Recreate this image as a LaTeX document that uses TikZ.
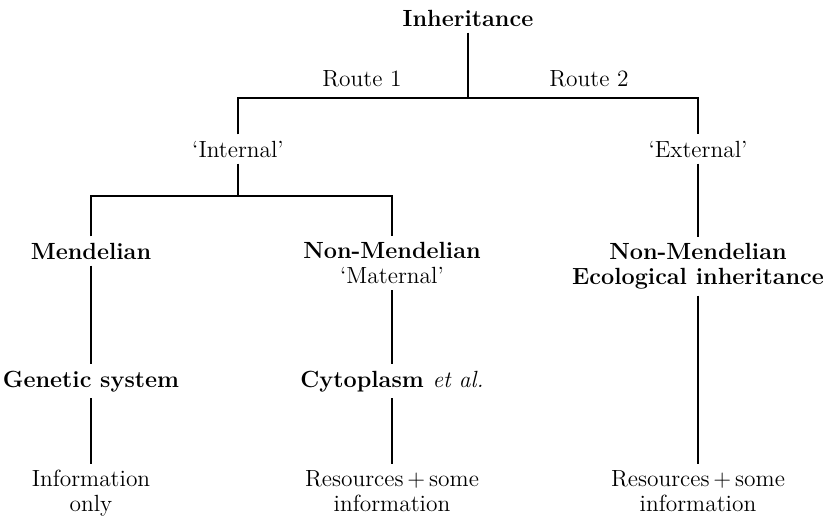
\documentclass[tikz,border=0pt]{standalone}
\usepackage{tikz}
\usetikzlibrary{positioning}
\begin{document}
\begin{tikzpicture}
[x=0.5pt, y=-0.5pt,
   link/.style={draw, line width=0.9pt},
   mainN/.style={shape=rectangle, align=center, inner sep=3pt, font=\fontsize{11.7}{12.5}\selectfont\bfseries},
   noteN/.style={shape=rectangle, align=center, inner sep=3pt, font=\fontsize{11.7}{12.5}\selectfont}]
\useasboundingbox (0,0) rectangle (837,520);
\node[mainN, anchor=base] (Inh) at (468, 26) {Inheritance};
\node[noteN, anchor=base] (R1) at (362, 86) {Route 1};
\node[noteN, anchor=base] (R2) at (589, 86) {Route 2};
\node[noteN, anchor=base] (Int) at (238, 157) {‘Internal’};
\node[noteN, anchor=base] (Ext) at (698, 157) {‘External’};
\node[mainN, anchor=base] (Men) at (91, 259) {Mendelian};
\node[mainN, anchor=north] (NM) at (392, 236) {Non-Mendelian\\{\mdseries ‘Maternal’}};
\node[mainN, anchor=north] (Eco) at (698, 237) {Non-Mendelian\\Ecological inheritance};
\node[mainN, anchor=base] (Gen) at (91, 387) {Genetic system};
\node[mainN, anchor=base] (Cyt) at (392, 387) {Cytoplasm {\mdseries\itshape et al.}};
\node[noteN, anchor=north] (Info) at (91, 464) {Information\\only};
\node[noteN, anchor=north] (ResA) at (392, 464) {Resources\,+\,some\\information};
\node[noteN, anchor=north] (ResB) at (698, 464) {Resources\,+\,some\\information};
% branch points
\coordinate (Jtop) at (468, 98);
\coordinate (Jint) at (238, 196);
\draw [link] (Inh) -- (Jtop);
\draw [link] (Int) |- (Jtop) -| (Ext);
\draw [link] (Int) -- (Jint);
\draw [link] (Men) |- (Jint) -| (NM);
\draw [link] (Men) -- (Gen);
\draw [link] (Gen) -- (Info);
\draw [link] (NM) -- (Cyt);
\draw [link] (Cyt) -- (ResA);
\draw [link] (Ext) -- (Eco);
\draw [link] (Eco) -- (ResB);
\end{tikzpicture}
\end{document}
